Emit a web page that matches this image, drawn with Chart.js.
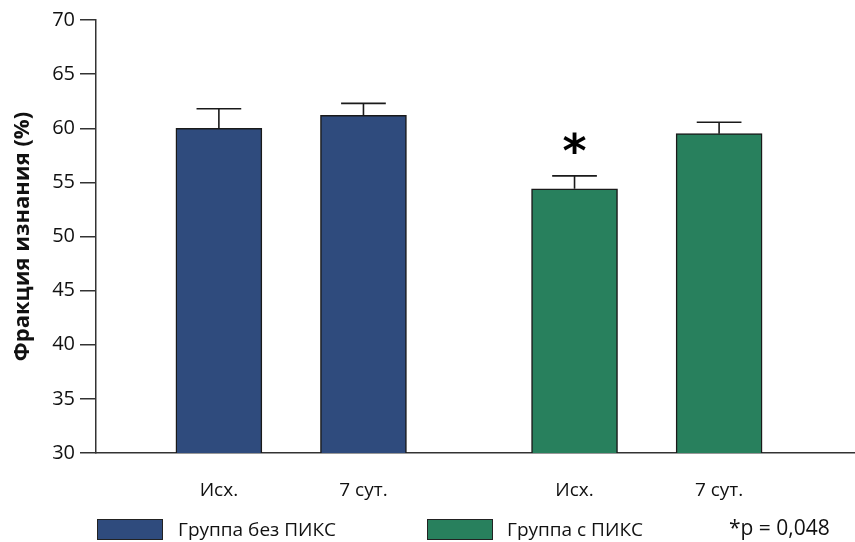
<!DOCTYPE html>
<html lang="ru">
<head>
<meta charset="utf-8">
<title>Фракция изнания</title>
<script src="https://cdn.jsdelivr.net/npm/chart.js@4/dist/chart.umd.min.js"></script>
<style>
    body { margin: 0; background: #fff; }
    #wrap { position: relative; width: 855px; height: 542px; font-family: 'Open Sans', sans-serif; color: #111; }
    #chart { position: absolute; left: 0; top: 0; }
    .legend-box { position: absolute; top: 519px; width: 64px; height: 19px; border: 1.5px solid #222; }
    .legend-text { position: absolute; top: 515px; font-size: 19px; line-height: 28px; white-space: nowrap; }
    #note { font-size: 21px; top: 513px; }
</style>
</head>
<body>
<div id="wrap">
    <canvas id="chart" width="855" height="542"></canvas>
    <div class="legend-box" id="box-0" style="left: 97px;"></div>
    <div class="legend-text" id="text-0" style="left: 178px;"></div>
    <div class="legend-box" id="box-1" style="left: 427px;"></div>
    <div class="legend-text" id="text-1" style="left: 507px;"></div>
    <div class="legend-text" id="note" style="left: 729px;"></div>
</div>
<script>
// Data
const categories = ['Исх.', '7 сут.', 'Исх.', '7 сут.'];
const barSlots = [1, 2, 3.46, 4.46];          // position of each bar on the x scale
const fractionValues = [60.0, 61.2, 54.4, 59.5];
const fractionErrors = [1.8, 1.1, 1.2, 1.05];
const significant = [false, false, true, false];
const groupNames = ['Группа без ПИКС', 'Группа с ПИКС'];
const barGroup = [0, 0, 1, 1];
const yTicks = [30, 35, 40, 45, 50, 55, 60, 65, 70];
const pNote = '*p = 0,048';

// Colours
const groupColors = ['#2f4b7d', '#28805d'];
const inkColor = '#1a1a1a';
const axisColor = '#333333';

// Fill in the html legend
groupNames.forEach((name, i) => {
    document.getElementById('box-' + i).style.background = groupColors[i];
    document.getElementById('text-' + i).textContent = name;
});
document.getElementById('note').textContent = pNote;

// Draws the upper error whisker and the significance mark above the bars
const errorBarPlugin = {
    id: 'errorBars',
    afterDatasetsDraw(chart) {
        const ctx = chart.ctx;
        const yScale = chart.scales.y;
        const meta = chart.getDatasetMeta(0);
        ctx.save();
        ctx.strokeStyle = inkColor;
        ctx.lineWidth = 1.6;
        meta.data.forEach((bar, i) => {
            const top = yScale.getPixelForValue(fractionValues[i] + fractionErrors[i]);
            const half = bar.width * 0.26;
            ctx.beginPath();
            ctx.moveTo(bar.x, bar.y);
            ctx.lineTo(bar.x, top);
            ctx.moveTo(bar.x - half, top);
            ctx.lineTo(bar.x + half, top);
            ctx.stroke();
            if (significant[i]) {
                ctx.fillStyle = '#000';
                ctx.font = 'bold 46px "DejaVu Sans"';
                ctx.textAlign = 'center';
                ctx.textBaseline = 'middle';
                ctx.fillText('*', bar.x, top - 21);
            }
        });
        ctx.restore();
    }
};

const ctx = document.getElementById('chart').getContext('2d');
new Chart(ctx, {
    type: 'bar',
    data: {
        datasets: [{
            data: barSlots.map((x, i) => ({ x: x, y: fractionValues[i] })),
            backgroundColor: barGroup.map(g => groupColors[g]),
            borderColor: inkColor,
            borderWidth: 1.5,
            borderSkipped: 'bottom',
            barThickness: 86
        }]
    },
    options: {
        responsive: false,
        animation: false,
        layout: { padding: { top: 20, right: 0, bottom: 0, left: 0 } },
        plugins: {
            legend: { display: false },
            tooltip: { enabled: false }
        },
        scales: {
            x: {
                type: 'linear',
                offset: false,
                min: 0.15,
                max: 5.4,
                afterBuildTicks: scale => {
                    scale.ticks = barSlots.map(v => ({ value: v }));
                },
                afterFit: scale => { scale.height = 89; },
                grid: { display: true, drawOnChartArea: false, drawTicks: false },
                border: { display: true, color: axisColor, width: 1.5 },
                ticks: {
                    autoSkip: false,
                    maxRotation: 0,
                    padding: 26,
                    color: '#111',
                    font: { family: "'Open Sans', sans-serif", size: 19 },
                    callback: (value, index) => categories[index]
                }
            },
            y: {
                min: 30,
                max: 70,
                afterBuildTicks: scale => {
                    scale.ticks = yTicks.map(v => ({ value: v }));
                },
                afterFit: scale => { scale.width = 96; },
                grid: { drawOnChartArea: false, drawTicks: true, tickLength: 16, color: axisColor, lineWidth: 1.5 },
                border: { display: true, color: axisColor, width: 1.5 },
                ticks: {
                    padding: 5,
                    color: '#111',
                    font: { family: "'Open Sans', sans-serif", size: 20 }
                },
                title: {
                    display: true,
                    text: 'Фракция изнания (%)',
                    color: '#111',
                    padding: { top: 10, bottom: 0 },
                    font: { family: "'Open Sans', sans-serif", size: 22, weight: 'bold' }
                }
            }
        }
    },
    plugins: [errorBarPlugin]
});
</script>
</body>
</html>
